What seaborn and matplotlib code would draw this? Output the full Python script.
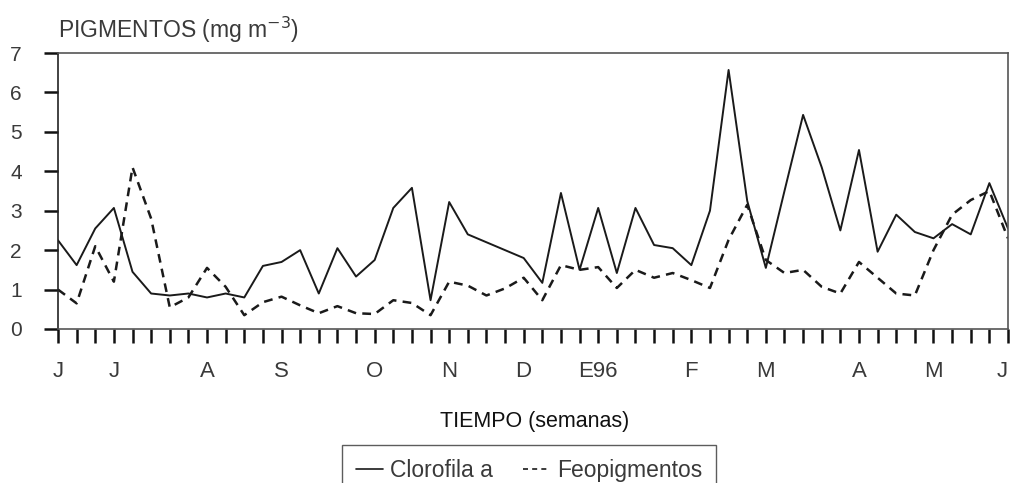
import numpy as np
import pandas as pd
import matplotlib
matplotlib.use("Agg")
import matplotlib.pyplot as plt
from matplotlib.lines import Line2D
import seaborn as sns

# ---- data (weekly samples, week 0 = June 1995) ----
weeks = list(range(52))
clorofila = [2.25, 1.62, 2.55, 3.07, 1.45, 0.90, 0.85, 0.90, 0.80, 0.90,
             0.80, 1.60, 1.70, 2.00, 0.90, 2.05, 1.33, 1.75, 3.07, 3.58,
             0.73, 3.22, 2.40, 2.20, 2.00, 1.80, 1.17, 3.45, 1.50, 3.07,
             1.42, 3.07, 2.13, 2.05, 1.62, 3.00, 6.57, 3.25, 1.55, 3.50,
             5.43, 4.10, 2.50, 4.54, 1.96, 2.90, 2.46, 2.30, 2.66, 2.40,
             3.70, 2.55]
feopigmentos = [1.00, 0.65, 2.10, 1.20, 4.10, 2.80, 0.55, 0.80, 1.55, 1.07,
                0.35, 0.68, 0.82, 0.60, 0.40, 0.58, 0.40, 0.38, 0.73, 0.66,
                0.35, 1.20, 1.10, 0.85, 1.03, 1.30, 0.73, 1.62, 1.50, 1.57,
                1.04, 1.50, 1.30, 1.42, 1.24, 1.04, 2.26, 3.15, 1.75, 1.42,
                1.50, 1.07, 0.90, 1.70, 1.30, 0.90, 0.85, 2.00, 2.90, 3.27,
                3.50, 2.30]
month_weeks = [0, 3, 8, 12, 17, 21, 25, 29, 34, 38, 43, 47, 51]
month_labels = ["J", "J", "A", "S", "O", "N", "D", "E96", "F", "M", "A", "M", "J"]
series_names = ["Clorofila a", "Feopigmentos"]

df = pd.DataFrame({
    "semana": weeks * 2,
    "valor": clorofila + feopigmentos,
    "serie": [series_names[0]] * len(weeks) + [series_names[1]] * len(weeks),
})

sns.set_style("white")
plt.rcParams["font.family"] = ["Liberation Sans", "DejaVu Sans"]
txt = "#3a3a3a"

fig = plt.figure(figsize=(10.11, 4.83), dpi=100)
ax = fig.add_axes([58 / 1011, 1 - 329 / 483, 950 / 1011, 276 / 483])

sns.lineplot(data=df, x="semana", y="valor", style="serie",
             dashes={series_names[0]: "", series_names[1]: (3.5, 2.5)},
             color="#1a1a1a", linewidth=1.4, legend=False, ax=ax)
ax.lines[1].set_linewidth(1.8)

ax.set_xlim(0, 51)
ax.set_ylim(0, 7)
ax.set_xlabel("")
ax.set_ylabel("")

ax.set_yticks(range(8))
ax.set_yticklabels([str(v) for v in range(8)], color=txt, fontsize=15)
ax.tick_params(axis="y", direction="out", length=10, width=1.8, color="#111",
               pad=16, left=True)

ax.xaxis.remove_overlapping_locs = False
ax.set_xticks(weeks)
ax.set_xticklabels([])
ax.tick_params(axis="x", which="major", direction="out", length=10, width=1.8,
               color="#111", bottom=True)
ax.set_xticks(month_weeks, minor=True)
ax.set_xticklabels(month_labels, minor=True, color=txt, fontsize=16)
ax.tick_params(axis="x", which="minor", length=0, pad=23, bottom=True)
last = ax.get_xticklabels(minor=True)[-1]
last.set_horizontalalignment("right")

for s in ax.spines.values():
    s.set_visible(True)
    s.set_color("#555")
    s.set_linewidth(1.2)
ax.spines["left"].set_color("#222")

fig.text(58 / 1011, 1 - 30 / 483, "PIGMENTOS (mg m$^{-3}$)", color=txt,
         fontsize=16.5, ha="left", va="center")
fig.text(535 / 1011, 1 - 421 / 483, "TIEMPO (semanas)", color="#111",
         fontsize=15.5, ha="center", va="center")

handles = [Line2D([], [], color="#1a1a1a", lw=1.2),
           Line2D([], [], color="#1a1a1a", lw=1.2, dashes=(3, 2.5))]
leg = fig.legend(handles, series_names, loc="upper center",
                 bbox_to_anchor=(529 / 1011, 1 - 445 / 483), ncol=2,
                 frameon=True, fancybox=False, edgecolor="#333",
                 fontsize=16.5, handlelength=1.2, handletextpad=0.3,
                 columnspacing=1.3, borderpad=0.6, borderaxespad=0)
for t in leg.get_texts():
    t.set_color(txt)
leg.get_frame().set_linewidth(1.0)

fig.savefig("out.png", dpi=100)
